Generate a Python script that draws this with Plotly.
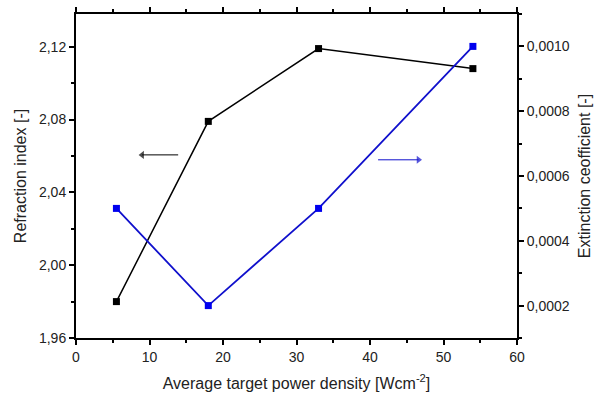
import plotly.graph_objects as go

power = [5.5, 18, 33, 54]
refraction = [1.980, 2.079, 2.119, 2.108]
extinction = [0.0005, 0.0002, 0.0005, 0.0010]

x_ticks = [0, 10, 20, 30, 40, 50, 60]
left_ticks = [1.96, 2.00, 2.04, 2.08, 2.12]
right_ticks = [0.0002, 0.0004, 0.0006, 0.0008, 0.0010]

# axis-indicator arrows (start, end) in data units
left_arrow_x = [13.9, 9.0]
left_arrow_y = [2.0606, 2.0606]
right_arrow_x = [41.1, 46.6]
right_arrow_y = [0.00065, 0.00065]

font_family = "Liberation Sans, Arial, sans-serif"
txt = "#222222"
blue = "#1010cc"

fig = go.Figure()
fig.add_trace(go.Scatter(x=power, y=refraction, mode="lines+markers",
                         line=dict(color="black", width=1.5),
                         marker=dict(symbol="square", size=7, color="black"),
                         showlegend=False, yaxis="y"))
fig.add_trace(go.Scatter(x=power, y=extinction, mode="lines+markers",
                         line=dict(color=blue, width=1.8),
                         marker=dict(symbol="square", size=7, color="#0000ee"),
                         showlegend=False, yaxis="y2"))

fig.add_trace(go.Scatter(x=left_arrow_x, y=left_arrow_y, mode="lines+markers",
                         line=dict(color="black", width=1),
                         marker=dict(symbol=["line-ns", "triangle-left"], size=[0, 7],
                                     color="black", line=dict(width=0)),
                         showlegend=False, yaxis="y", hoverinfo="skip"))
fig.add_trace(go.Scatter(x=right_arrow_x, y=right_arrow_y, mode="lines+markers",
                         line=dict(color=blue, width=1),
                         marker=dict(symbol=["line-ns", "triangle-right"], size=[0, 7],
                                     color=blue, line=dict(width=0)),
                         showlegend=False, yaxis="y2", hoverinfo="skip"))

axis_common = dict(showline=True, linecolor="black", linewidth=2, ticks="outside",
                   tickcolor="black", tickwidth=2, ticklen=5, showgrid=False,
                   zeroline=False, automargin=False,
                   tickfont=dict(size=14, color=txt, family=font_family))

fig.update_layout(
    width=598, height=396,
    margin=dict(l=76, r=81, t=14, b=58),
    paper_bgcolor="white", plot_bgcolor="white",
    separators=", ",
    font=dict(family=font_family, color=txt),
    xaxis=dict(range=[0, 60], tickvals=x_ticks, mirror="ticks",
               title=dict(text="Average target power density [Wcm<sup>-2</sup>]",
                          font=dict(size=16, color=txt), standoff=14),
               minor=dict(dtick=5, tick0=0, ticks="outside", ticklen=3, tickwidth=2, tickcolor="black"),
               **axis_common),
    yaxis=dict(range=[1.96, 2.138], tickvals=left_ticks, tickformat=".2f",
               title=dict(text="Refraction index [-]", font=dict(size=16, color=txt), standoff=8),
               minor=dict(dtick=0.02, tick0=1.96, ticks="outside", ticklen=3, tickwidth=2, tickcolor="black"),
               **axis_common),
    yaxis2=dict(range=[0.0001, 0.0011], tickvals=right_ticks, tickformat=".4f",
                overlaying="y", side="right", anchor="x",
                title=dict(text="Extinction ceofficient [-]", font=dict(size=16, color=txt), standoff=10),
                minor=dict(dtick=0.0001, tick0=0.0001, ticks="outside", ticklen=3, tickwidth=2, tickcolor="black"),
                **axis_common),
)

fig.write_html("out.html")
